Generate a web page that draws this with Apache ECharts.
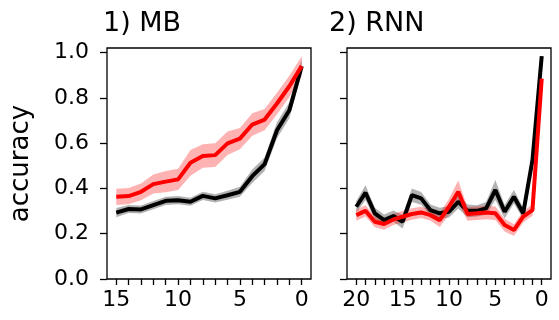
<!DOCTYPE html>
<html>
<head>
<meta charset="utf-8">
<script src="https://cdn.jsdelivr.net/npm/echarts@6/dist/echarts.min.js"></script>
<style>
  html, body { margin: 0; padding: 0; background: #fff; }
  #chart { width: 559px; height: 320px; }
</style>
</head>
<body>
<div id="chart"></div>
<script>
// steps before the end (x runs right to left, towards 0)
const mbSteps = [15, 14, 13, 12, 11, 10, 9, 8, 7, 6, 5, 4, 3, 2, 1, 0];
const mbRed = [0.363, 0.366, 0.385, 0.419, 0.43, 0.44, 0.513, 0.543, 0.547, 0.599, 0.62, 0.682, 0.704, 0.775, 0.851, 0.94];
const mbRedErr = [0.036, 0.036, 0.037, 0.042, 0.047, 0.047, 0.057, 0.052, 0.052, 0.052, 0.047, 0.05, 0.047, 0.047, 0.047, 0.044];
const mbBlack = [0.293, 0.309, 0.307, 0.326, 0.345, 0.348, 0.341, 0.367, 0.356, 0.37, 0.385, 0.454, 0.507, 0.657, 0.745, 0.94];
const mbBlackErr = [0.02, 0.018, 0.018, 0.018, 0.018, 0.018, 0.018, 0.018, 0.018, 0.02, 0.022, 0.03, 0.03, 0.035, 0.035, 0.03];

const rnnSteps = [20, 19, 18, 17, 16, 15, 14, 13, 12, 11, 10, 9, 8, 7, 6, 5, 4, 3, 2, 1, 0];
const rnnRed = [0.282, 0.301, 0.253, 0.243, 0.263, 0.275, 0.287, 0.294, 0.282, 0.26, 0.319, 0.385, 0.287, 0.29, 0.294, 0.29, 0.238, 0.216, 0.275, 0.304, 0.885];
const rnnRedErr = [0.025, 0.025, 0.025, 0.025, 0.025, 0.025, 0.025, 0.025, 0.025, 0.03, 0.035, 0.05, 0.03, 0.03, 0.03, 0.03, 0.028, 0.026, 0.025, 0.025, 0.02];
const rnnBlack = [0.319, 0.381, 0.29, 0.26, 0.278, 0.253, 0.37, 0.356, 0.304, 0.29, 0.297, 0.341, 0.301, 0.301, 0.312, 0.393, 0.297, 0.363, 0.29, 0.525, 0.984];
const rnnBlackErr = [0.025, 0.033, 0.025, 0.025, 0.025, 0.03, 0.03, 0.028, 0.025, 0.025, 0.025, 0.03, 0.028, 0.025, 0.028, 0.044, 0.03, 0.03, 0.025, 0.02, 0.01];

const yTicks = [0, 0.2, 0.4, 0.6, 0.8, 1.0];
const mbTicks = [15, 14, 13, 12, 11, 10, 9, 8, 7, 6, 5, 4, 3, 2, 1, 0];
const mbLabels = [15, 10, 5, 0];
const rnnTicks = rnnSteps;
const rnnLabels = [20, 15, 10, 5, 0];

const FONT = "DejaVu Sans";

// shaded band: one polygon (upper edge forward, lower edge back) through the axes
function band(xs, ys, errs, color, idx) {
  return {
    type: "custom", xAxisIndex: idx, yAxisIndex: idx, silent: true, z: 1,
    data: xs.map((x, i) => [x, ys[i] - errs[i], ys[i] + errs[i]]),
    encode: { x: 0, y: [1, 2] },
    renderItem: (params, api) => {
      if (params.dataIndexInside !== 0) return null;
      const n = params.dataInsideLength;
      const pts = [];
      for (let i = 0; i < n; i++) pts.push(api.coord([api.value(0, i), api.value(2, i)]));
      for (let i = n - 1; i >= 0; i--) pts.push(api.coord([api.value(0, i), api.value(1, i)]));
      return { type: "polygon", shape: { points: pts }, style: { fill: color } };
    },
  };
}

function line(xs, ys, color, idx, z) {
  return { type: "line", xAxisIndex: idx, yAxisIndex: idx, symbol: "none",
    data: xs.map((x, i) => [x, ys[i]]),
    lineStyle: { color: color, width: 4 }, z: z };
}

function xAxis(idx, lo, hi, ticks, labels) {
  return {
    type: "value", gridIndex: idx, position: "bottom", inverse: true, min: lo, max: hi,
    axisLine: { show: false, onZero: false },
    splitLine: { show: false },
    axisTick: { show: true, inside: false, length: 6, customValues: ticks,
      lineStyle: { color: "#000", width: 1.3 } },
    axisLabel: { customValues: labels, margin: 10, color: "#000",
      fontFamily: FONT, fontSize: 22 },
  };
}

function yAxis(idx, showLabels) {
  return {
    type: "value", gridIndex: idx, position: "left", min: 0, max: 1.02,
    axisLine: { show: false, onZero: false },
    splitLine: { show: false },
    axisTick: { show: true, inside: false, length: 7, customValues: yTicks,
      lineStyle: { color: "#000", width: 1.3 } },
    axisLabel: { show: showLabels, customValues: yTicks, margin: 18, color: "#000",
      fontFamily: FONT, fontSize: 22, formatter: (v) => v.toFixed(1) },
    name: showLabels ? "accuracy" : "",
    nameLocation: "middle", nameGap: 73,
    nameTextStyle: { color: "#000", fontFamily: FONT, fontSize: 26 },
  };
}

const titleStyle = { fontFamily: FONT, fontSize: 27, fontWeight: "normal", color: "#000" };

const chart = echarts.init(document.getElementById("chart"), null, { renderer: "canvas" });
chart.setOption({
  animation: false,
  backgroundColor: "#fff",
  title: [
    { text: "1) MB", left: 98, top: 5, textStyle: titleStyle },
    { text: "2) RNN", left: 324, top: 5, textStyle: titleStyle },
  ],
  grid: [
    { left: 107, width: 204, top: 48, height: 231, show: true,
      borderColor: "#000", borderWidth: 1.3, backgroundColor: "transparent" },
    { left: 347, width: 204, top: 48, height: 231, show: true,
      borderColor: "#000", borderWidth: 1.3, backgroundColor: "transparent" },
  ],
  xAxis: [
    xAxis(0, -0.75, 15.75, mbTicks, mbLabels),
    xAxis(1, -1, 21, rnnTicks, rnnLabels),
  ],
  yAxis: [yAxis(0, true), yAxis(1, false)],
  series: [
    band(mbSteps, mbBlack, mbBlackErr, "rgba(0,0,0,0.3)", 0),
    band(mbSteps, mbRed, mbRedErr, "rgba(255,0,0,0.3)", 0),
    line(mbSteps, mbBlack, "#000", 0, 3),
    line(mbSteps, mbRed, "#ff0000", 0, 4),
    band(rnnSteps, rnnBlack, rnnBlackErr, "rgba(0,0,0,0.3)", 1),
    band(rnnSteps, rnnRed, rnnRedErr, "rgba(255,0,0,0.3)", 1),
    line(rnnSteps, rnnBlack, "#000", 1, 3),
    line(rnnSteps, rnnRed, "#ff0000", 1, 4),
  ],
});
</script>
</body>
</html>
